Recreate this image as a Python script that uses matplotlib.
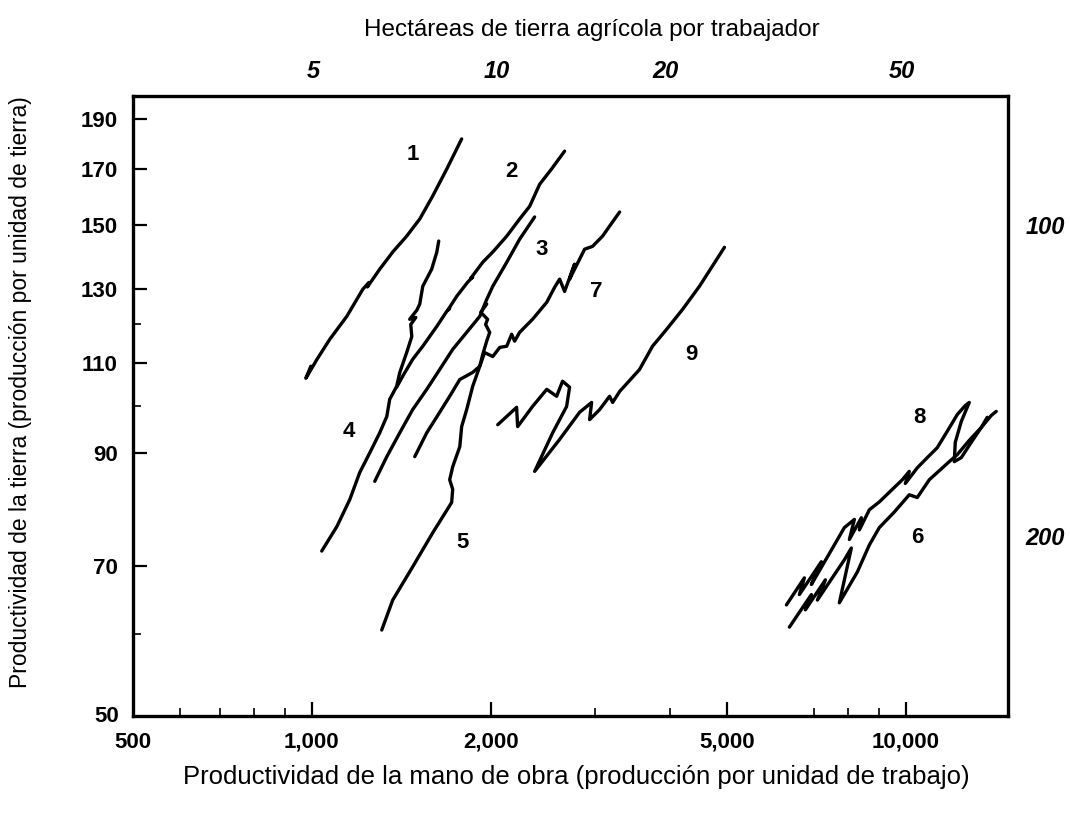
import numpy as np
import matplotlib.pyplot as plt
from matplotlib.ticker import FixedLocator, FuncFormatter, NullFormatter

plt.rcParams['font.family'] = ['Liberation Sans', 'DejaVu Sans']

# Trayectorias de productividad: x = producción por trabajador, y = producción por hectárea
x1 = [996, 977, 1020, 1072, 1145, 1218, 1247, 1240, 1301, 1368, 1444, 1519, 1597, 1687, 1787]
y1 = [109.3, 106.4, 111.0, 116.1, 122.2, 129.8, 131.8, 130.5, 135.8, 141.1, 146.2, 151.9, 159.9, 169.9, 181.7]

x2 = [1389, 1422, 1478, 1537, 1623, 1687, 1706, 1695, 1753, 1829, 1865, 1850, 1939, 2016, 2128, 2237, 2326, 2418, 2532, 2663]
y2 = [104.3, 106.9, 111.0, 114.3, 119.5, 123.6, 124.4, 124.0, 127.8, 131.9, 133.4, 133.0, 137.9, 141.1, 146.2, 151.9, 156.3, 164.2, 169.9, 176.8]

x3 = [1276, 1337, 1406, 1478, 1561, 1641, 1726, 1822, 1917, 1969, 2016, 2128, 2237, 2371]
y3 = [84.5, 89.3, 94.2, 99.2, 103.8, 108.5, 113.5, 117.9, 122.2, 126.9, 130.7, 137.9, 145.2, 152.6]

x4 = [1039, 1102, 1158, 1204, 1252, 1301, 1337, 1352, 1389, 1406, 1444, 1473, 1467, 1496, 1461, 1502, 1519, 1537, 1591, 1623, 1635]
y4 = [72.3, 76.4, 81.1, 86.2, 90.1, 94.2, 97.7, 101.5, 104.5, 107.8, 112.7, 116.8, 120.0, 121.9, 121.4, 123.9, 125.6, 130.7, 135.8, 141.1, 144.6]

x5 = [1311, 1368, 1478, 1597, 1719, 1726, 1706, 1726, 1774, 1787, 1822, 1865, 1917, 1939, 1969, 1992, 1961, 1976, 1924, 1969]
y5 = [60.6, 64.8, 69.8, 75.3, 80.6, 83.0, 84.8, 87.3, 91.3, 95.5, 99.2, 104.5, 109.3, 112.2, 115.6, 117.9, 120.0, 121.4, 123.3, 125.6]

x6 = [6364, 6931, 6771, 7317, 7093, 7875, 8091, 7723, 8281, 8676, 9017, 9557, 10127, 10447, 10944, 11823, 12197, 12777, 13384, 13913, 14185]
y6 = [61.0, 65.6, 63.4, 67.8, 64.8, 70.9, 72.8, 64.4, 69.0, 73.3, 76.2, 78.9, 82.0, 81.5, 84.8, 88.3, 89.7, 92.6, 95.3, 97.9, 98.8]

x7 = [1490, 1561, 1641, 1706, 1774, 1865, 1917, 1953, 2016, 2071, 2128, 2169, 2194, 2237, 2352, 2485, 2562, 2612, 2663, 2768, 2715, 2878, 2968, 3085, 3170, 3296]
y7 = [89.3, 94.2, 98.6, 102.2, 106.1, 107.8, 109.3, 112.7, 111.7, 114.0, 114.3, 117.4, 115.6, 117.9, 121.4, 126.1, 130.4, 132.8, 129.2, 137.3, 132.8, 142.0, 142.9, 146.2, 149.5, 154.3]

x8 = [6291, 6745, 6615, 7203, 6931, 7575, 7875, 8187, 8029, 8411, 8346, 8676, 9017, 9484, 9858, 10127, 9973, 10447, 10859, 11287, 11732, 12197, 12581, 12777, 12388, 12103, 12056, 12388, 12877, 13384, 13699]
y8 = [64.1, 68.1, 65.6, 70.6, 67.1, 73.3, 76.2, 77.6, 74.2, 77.9, 75.8, 79.3, 80.7, 83.0, 84.8, 86.4, 84.1, 87.1, 89.1, 91.1, 94.5, 98.1, 100.1, 100.8, 96.6, 92.2, 88.3, 89.1, 92.2, 95.3, 97.5]

x9 = [2055, 2211, 2220, 2352, 2485, 2582, 2642, 2715, 2684, 2543, 2371, 2612, 2822, 2957, 2934, 3050, 3170, 3208, 3296, 3560, 3744, 3954, 4206, 4491, 4948]
y9 = [95.9, 99.7, 95.5, 99.9, 103.8, 102.2, 105.7, 104.3, 99.9, 94.2, 86.4, 92.8, 98.6, 100.8, 97.0, 99.2, 102.2, 100.8, 103.3, 108.5, 114.3, 118.7, 124.1, 130.7, 142.6]

curves = [(x1, y1), (x2, y2), (x3, y3), (x4, y4), (x5, y5), (x6, y6), (x7, y7), (x8, y8), (x9, y9)]

# Números de las curvas
lblTxt = ['1', '2', '3', '4', '5', '6', '7', '8', '9']
lblX = [1478, 2169, 2436, 1154, 1795, 10447, 3015, 10527, 4355]
lblY = [175.6, 169.1, 142.0, 94.5, 73.7, 74.6, 129.2, 97.5, 112.2]

xMajor = [1000, 2000, 5000, 10000]
xMinor = [600, 700, 800, 900, 3000, 4000, 7000, 8000, 9000]
yMajor = [70, 90, 110, 130, 150, 170, 190]
yMinor = [60, 100, 120]

# Hectáreas por trabajador (escala superior / derecha)
haTop = ['5', '10', '20', '50']
haTopPos = [0.293, 0.464, 0.622, 0.843]
haRight = ['100', '200']
haRightPos = [0.721, 0.341]

fig = plt.figure(figsize=(10.7, 8.17), dpi=100)
ax = fig.add_axes([0.1243, 0.1236, 0.8178, 0.7589])

for xs, ys in curves:
    ax.plot(xs, ys, color='black', lw=2.4, solid_capstyle='round', solid_joinstyle='round')

for t, lx, ly in zip(lblTxt, lblX, lblY):
    ax.text(lx, ly, t, fontsize=16, fontweight='bold', ha='center', va='center')

ax.set_xscale('log')
ax.set_yscale('log')
ax.set_xlim(500, 14850)
ax.set_ylim(50, 200)

ax.xaxis.set_major_locator(FixedLocator(xMajor))
ax.xaxis.set_minor_locator(FixedLocator(xMinor))
ax.xaxis.set_major_formatter(FuncFormatter(lambda v, p: f'{int(v):,}'))
ax.xaxis.set_minor_formatter(NullFormatter())
ax.yaxis.set_major_locator(FixedLocator(yMajor))
ax.yaxis.set_minor_locator(FixedLocator(yMinor))
ax.yaxis.set_major_formatter(FuncFormatter(lambda v, p: f'{int(v)}'))
ax.yaxis.set_minor_formatter(NullFormatter())

ax.tick_params(which='major', direction='in', length=10, width=1.6, pad=11)
ax.tick_params(which='minor', direction='in', length=6, width=1.2)
for lab in ax.get_xticklabels() + ax.get_yticklabels():
    lab.set_fontweight('bold')
    lab.set_fontsize(16)

# etiquetas de las esquinas
ax.text(-0.016, 0.0, '50', transform=ax.transAxes, ha='right', va='center', fontsize=16, fontweight='bold')
ax.text(0.0, -0.025, '500', transform=ax.transAxes, ha='center', va='top', fontsize=16, fontweight='bold')

for s in ax.spines.values():
    s.set_linewidth(2.4)

fig.text(0.539, 0.049, 'Productividad de la mano de obra (producción por unidad de trabajo)',
         fontsize=18.5, ha='center', va='center')
fig.text(0.019, 0.52, 'Productividad de la tierra (producción por unidad de tierra)',
         fontsize=16.5, ha='center', va='center', rotation=90)
fig.text(0.553, 0.963, 'Hectáreas de tierra agrícola por trabajador', fontsize=17.5, ha='center', va='center')
for t, p in zip(haTop, haTopPos):
    fig.text(p, 0.912, t, fontsize=17, fontweight='bold', style='italic', ha='center', va='center')
for t, p in zip(haRight, haRightPos):
    fig.text(0.977, p, t, fontsize=17, fontweight='bold', style='italic', ha='center', va='center')

fig.savefig('out.png', dpi=100)
